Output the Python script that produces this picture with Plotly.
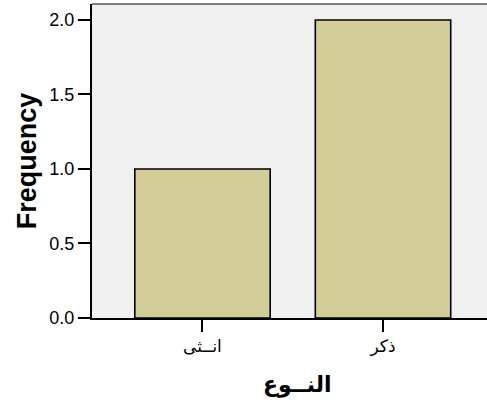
import plotly.graph_objects as go

categories = ["انــثى", "ذكر"]
frequency = [1.0, 2.0]
y_ticks = [0.0, 0.5, 1.0, 1.5, 2.0]
x_title = "النــوع"
y_title = "Frequency"

FONT = "Arial, Liberation Sans, DejaVu Sans, sans-serif"

fig = go.Figure()
fig.add_trace(go.Bar(
    x=categories, y=frequency, width=0.75,
    marker=dict(color="#D3CE97", line=dict(color="black", width=1.6)),
))

fig.update_layout(
    width=487, height=404,
    margin=dict(l=92, r=0, t=4, b=86),
    paper_bgcolor="white", plot_bgcolor="#F0F0F0",
    showlegend=False,
    font=dict(family=FONT, color="black"),
    shapes=[dict(type="line", xref="paper", yref="paper", x0=0, x1=1, y0=1, y1=1,
                 line=dict(color="#555555", width=1.5))],
    annotations=[dict(text="<b>" + x_title + "</b>", xref="paper", yref="paper",
                      x=0.519, y=-0.213, showarrow=False, xanchor="center", yanchor="middle",
                      font=dict(size=22, family="DejaVu Sans, Arial"))],
)
fig.update_xaxes(
    type="category", range=[-0.612, 1.576],
    showline=True, linecolor="black", linewidth=2,
    ticks="outside", ticklen=12, tickwidth=2, tickcolor="black",
    tickfont=dict(size=17, family="DejaVu Sans, Arial"),
    showgrid=False,
)
fig.update_yaxes(
    range=[0, 2.107], tickvals=y_ticks, tickformat=".1f",
    showline=True, linecolor="black", linewidth=2,
    ticks="outside", ticklen=12, tickwidth=2, tickcolor="black",
    tickfont=dict(size=18),
    title=dict(text="<b>" + y_title + "</b>", font=dict(size=27), standoff=5),
    showgrid=False, zeroline=False,
)

fig.write_html("out.html", config={"displayModeBar": False},
               post_script="document.body.style.margin='0';document.body.style.overflow='hidden';")
